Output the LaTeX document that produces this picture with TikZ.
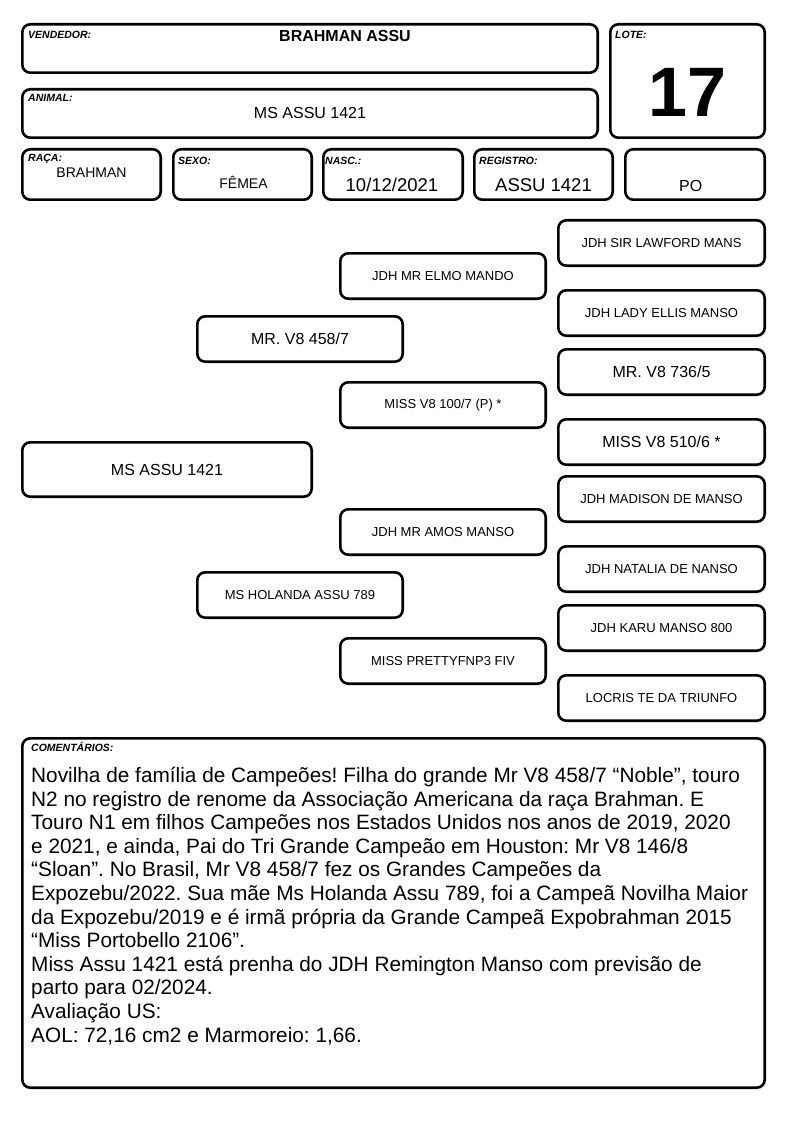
\documentclass[tikz,border=0pt]{standalone}
\usepackage{fontspec}
\setmainfont{Liberation Sans}
\frenchspacing
\begin{document}
\begin{tikzpicture}[x=1pt,y=-1pt,
  box/.style={draw, line width=2.6pt, rounded corners=8pt, inner sep=0pt},
  lab/.style={anchor=base west, inner sep=0pt, font=\fontsize{10.5}{12}\selectfont\bfseries\itshape},
  val/.style={anchor=base, inner sep=0pt},
  ped/.style={box, minimum width=205.4pt, minimum height=45.4pt, font=\fontsize{13}{15}\selectfont},
  pedbig/.style={ped, font=\fontsize{16}{18}\selectfont},
  small/.style={box, minimum height=50.4pt}
]
\useasboundingbox (0,0) rectangle (794,1123);

% header boxes
\node[box, minimum width=575.4pt, minimum height=48.4pt] (vend) at (310,48.5) {};
\node[box, minimum width=154.4pt, minimum height=113.4pt] (lote) at (687.5,81) {};
\node[box, minimum width=575.4pt, minimum height=48.4pt] (animal) at (310,113.5) {};
\node[small, minimum width=138.4pt] (raca) at (91.5,174.5) {};
\node[small, minimum width=138.4pt] (sexo) at (242.5,174.5) {};
\node[small, minimum width=139.4pt] (nasc) at (393,174.5) {};
\node[small, minimum width=138.4pt] (reg) at (543.5,174.5) {};
\node[small, minimum width=139.4pt] (po) at (695,174.5) {};

% labels
\node[lab] (lvend) at (28,39) {VENDEDOR:};
\node[lab] (llote) at (615,38.5) {LOTE:};
\node[lab] (lanimal) at (28,102) {ANIMAL:};
\node[lab] (lraca) at (28,162) {RAÇA:};
\node[lab] (lsexo) at (178,165) {SEXO:};
\node[lab] (lnasc) at (325,165) {NASC.:};
\node[lab] (lreg) at (479,165) {REGISTRO:};

% values
\node[val, font=\fontsize{16}{18}\selectfont\bfseries] (tvend) at (345,42) {BRAHMAN ASSU};
\node[val, font=\fontsize{70}{72}\selectfont\bfseries] (tlote) at (687.5,117) {17};
\node[val, font=\fontsize{16}{18}\selectfont] (tanimal) at (310,119) {MS ASSU 1421};
\node[val, font=\fontsize{14}{16}\selectfont] (traca) at (91.5,178) {BRAHMAN};
\node[val, font=\fontsize{14}{16}\selectfont] (tsexo) at (243.5,189) {FÊMEA};
\node[val, font=\fontsize{18.5}{20}\selectfont] (tnasc) at (392,192) {10/12/2021};
\node[val, font=\fontsize{18.5}{20}\selectfont] (treg) at (543.5,192) {ASSU 1421};
\node[val, font=\fontsize{16}{18}\selectfont] (tpo) at (690.7,192) {PO};

% pedigree
\node[box, minimum width=289.4pt, minimum height=54.4pt, font=\fontsize{16}{18}\selectfont] (p0) at (167,469.5) {MS ASSU 1421};
\node[pedbig] (p1) at (300,339) {MR. V8 458/7};
\node[ped] (p2) at (300,595) {MS HOLANDA ASSU 789};
\node[ped] (g1) at (443,276) {JDH MR ELMO MANDO};
\node[ped] (g2) at (443,405) {MISS V8 100/7 (P) *};
\node[ped] (g3) at (443,532) {JDH MR AMOS MANSO};
\node[ped] (g4) at (443,661) {MISS PRETTYFNP3 FIV};
\node[ped, minimum width=206.4pt] (r1) at (661.5,243) {JDH SIR LAWFORD MANS};
\node[ped, minimum width=206.4pt] (r2) at (661.5,313) {JDH LADY ELLIS MANSO};
\node[pedbig, minimum width=206.4pt] (r3) at (661.5,372) {MR. V8 736/5};
\node[pedbig, minimum width=206.4pt] (r4) at (661.5,442) {MISS V8 510/6 *};
\node[ped, minimum width=206.4pt] (r5) at (661.5,499) {JDH MADISON DE MANSO};
\node[ped, minimum width=206.4pt] (r6) at (661.5,569) {JDH NATALIA DE NANSO};
\node[ped, minimum width=206.4pt] (r7) at (661.5,628) {JDH KARU MANSO 800};
\node[ped, minimum width=206.4pt] (r8) at (661.5,698) {LOCRIS TE DA TRIUNFO};

% comments
\node[box, minimum width=742.4pt, minimum height=349.4pt] (com) at (393.5,913) {};
\node[lab] (lcom) at (31,751) {COMENTÁRIOS:};
\node[anchor=base west, inner sep=0pt, align=left, font=\fontsize{20.8}{23.6}\selectfont] (tcom) at (31,1042) {%
Novilha de família de Campeões! Filha do grande Mr V8 458/7 “Noble”, touro\\
N2 no registro de renome da Associação Americana da raça Brahman. E\\
Touro N1 em filhos Campeões nos Estados Unidos nos anos de 2019, 2020\\
e 2021, e ainda, Pai do Tri Grande Campeão em Houston: Mr V8 146/8\\
“Sloan”. No Brasil, Mr V8 458/7 fez os Grandes Campeões da\\
Expozebu/2022. Sua mãe Ms Holanda Assu 789, foi a Campeã Novilha Maior\\
da Expozebu/2019 e é irmã própria da Grande Campeã Expobrahman 2015\\
“Miss Portobello 2106”.\\
Miss Assu 1421 está prenha do JDH Remington Manso com previsão de\\
parto para 02/2024.\\
Avaliação US:\\
AOL: 72,16 cm2 e Marmoreio: 1,66.};
\end{tikzpicture}
\end{document}
